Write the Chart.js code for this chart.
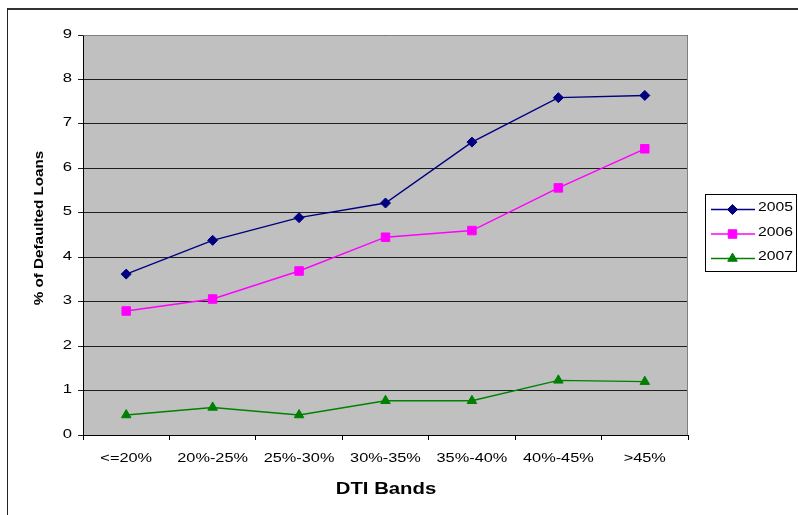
<!DOCTYPE html>
<html>
<head>
<meta charset="utf-8">
<script src="https://cdn.jsdelivr.net/npm/chart.js@4.4.1/dist/chart.umd.min.js"></script>
<style>
  html, body { margin: 0; padding: 0; background: #fff; overflow: hidden; }
  canvas { display: block; }
</style>
</head>
<body>
<canvas id="c" width="798" height="515"></canvas>
<script>
// DTI bands on the category axis
const categories = ['<=20%', '20%-25%', '25%-30%', '30%-35%', '35%-40%', '40%-45%', '>45%'];
const seriesNames = ['2005', '2006', '2007'];

// % of defaulted loans per DTI band, by origination year
const rate2005 = [3.62, 4.38, 4.89, 5.22, 6.59, 7.59, 7.64];
const rate2006 = [2.79, 3.06, 3.69, 4.45, 4.60, 5.56, 6.44];
const rate2007 = [0.45, 0.62, 0.45, 0.77, 0.77, 1.23, 1.20];

const yMin = 0, yMax = 9, yStep = 1;

const FONT = '"Liberation Sans", Arial, Helvetica, sans-serif';

// Text drawn with a horizontal stretch (wide sans look)
function wideText(ctx, text, x, y, o) {
  ctx.save();
  ctx.translate(x, y);
  if (o.rotate) ctx.rotate(o.rotate);
  ctx.scale(o.sx || 1, 1);
  ctx.font = (o.weight || 'normal') + ' ' + o.size + 'px ' + FONT;
  ctx.fillStyle = o.color || '#000';
  ctx.textAlign = o.align || 'center';
  ctx.textBaseline = o.baseline || 'alphabetic';
  ctx.fillText(text, 0, 0);
  ctx.restore();
}

// Grey plot background
const plotBackground = {
  id: 'plotBackground',
  beforeDraw(chart) {
    const { ctx, chartArea: a } = chart;
    ctx.save();
    ctx.fillStyle = '#c0c0c0';
    ctx.fillRect(a.left, a.top, a.right - a.left, a.bottom - a.top);
    ctx.restore();
  }
};

// Outer frame plus grey top/right edge of the plot area
const frames = {
  id: 'frames',
  beforeDatasetsDraw(chart) {
    const { ctx, chartArea: a } = chart;
    ctx.save();
    ctx.strokeStyle = '#808080';
    ctx.lineWidth = 1;
    ctx.beginPath();
    ctx.moveTo(a.left + 0.5, a.top + 0.5);
    ctx.lineTo(a.right - 0.5, a.top + 0.5);
    ctx.lineTo(a.right - 0.5, a.bottom);
    ctx.stroke();
    ctx.restore();
  },
  afterDraw(chart) {
    const ctx = chart.ctx;
    ctx.save();
    ctx.fillStyle = '#333';
    ctx.fillRect(7, 8, 791, 2);
    ctx.fillStyle = '#222';
    ctx.fillRect(7, 8, 1, 507);
    ctx.restore();
  }
};

// Tick labels, axis titles and the legend box
const labelsAndLegend = {
  id: 'labelsAndLegend',
  afterDraw(chart) {
    const ctx = chart.ctx;
    const xs = chart.scales.x, ys = chart.scales.y;

    ys.ticks.forEach((t, i) => {
      wideText(ctx, String(t.value), 72, ys.getPixelForTick(i) - 1,
        { size: 13, sx: 1.28, align: 'right', baseline: 'middle' });
    });
    xs.ticks.forEach((t, i) => {
      wideText(ctx, categories[i], xs.getPixelForTick(i), 462,
        { size: 12, sx: 1.36, align: 'center' });
    });

    wideText(ctx, '% of Defaulted Loans', 39, 228,
      { size: 13, sx: 1.17, weight: 'bold', rotate: -Math.PI / 2, baseline: 'middle' });
    wideText(ctx, 'DTI Bands', 386, 494,
      { size: 16, sx: 1.27, weight: 'bold' });

    // legend
    ctx.save();
    ctx.strokeStyle = '#000';
    ctx.lineWidth = 1;
    ctx.strokeRect(705.5, 194.5, 91, 77);
    chart.data.datasets.forEach((ds, i) => {
      const ly = 209.5 + i * 24.5;
      ctx.strokeStyle = ds.borderColor;
      ctx.lineWidth = ds.borderWidth;
      ctx.beginPath();
      ctx.moveTo(711, ly);
      ctx.lineTo(755, ly);
      ctx.stroke();
      ctx.fillStyle = ds.pointBackgroundColor;
      ctx.strokeStyle = ds.pointBorderColor;
      ctx.lineWidth = 1;
      Chart.helpers.drawPoint(ctx, {
        pointStyle: ds.pointStyle, radius: ds.pointRadius, rotation: 0, borderWidth: 1
      }, 732.5, ly);
      wideText(ctx, ds.label, 758, ly + 1.5, { size: 12, sx: 1.31, align: 'left' });
    });
    ctx.restore();
  }
};

function series(label, values, color, style, radius) {
  return {
    label,
    data: values,
    borderColor: color,
    backgroundColor: color,
    borderWidth: 1.4,
    pointStyle: style,
    pointRadius: radius,
    pointHoverRadius: radius,
    pointBackgroundColor: color,
    pointBorderColor: color,
    pointBorderWidth: 1,
    tension: 0,
    fill: false
  };
}

new Chart(document.getElementById('c'), {
  type: 'line',
  data: {
    labels: categories,
    datasets: [
      series(seriesNames[0], rate2005, '#000080', 'rectRot', 5),
      series(seriesNames[1], rate2006, '#ff00ff', 'rect', 6),
      series(seriesNames[2], rate2007, '#008000', 'triangle', 5.5)
    ]
  },
  options: {
    responsive: false,
    animation: false,
    devicePixelRatio: 1,
    layout: { padding: { left: 0, right: 110, top: 35, bottom: 0 } },
    plugins: {
      legend: { display: false },
      title: { display: false },
      tooltip: { enabled: false }
    },
    scales: {
      x: {
        type: 'category',
        offset: true,
        grid: { offset: true, drawOnChartArea: false, drawTicks: true, tickLength: 5, color: '#000' },
        border: { display: true, color: '#000', width: 1 },
        ticks: { display: false },
        afterFit(s) { s.height = 80; }
      },
      y: {
        min: yMin,
        max: yMax,
        ticks: { stepSize: yStep, display: false },
        grid: { color: '#1e1e1e', drawTicks: true, tickLength: 5 },
        border: { display: true, color: '#000', width: 1 },
        afterFit(s) { s.width = 83; }
      }
    }
  },
  plugins: [plotBackground, frames, labelsAndLegend]
});
</script>
</body>
</html>
